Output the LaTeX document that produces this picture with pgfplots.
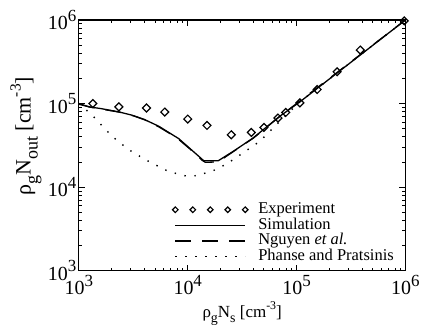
\documentclass[border=0pt]{standalone}
\usepackage{pgfplots}
\pgfplotsset{compat=1.18}
\usepackage{fontspec}
\setmainfont{Liberation Serif}
% power-of-ten tick label set in the text font
\newcommand\tp[1]{10\raisebox{0.42em}{\fontsize{17}{17}\selectfont #1}}
% large, deep subscripts and superscripts for the axis labels
\newcommand\sub[1]{\raisebox{-0.32em}{\scalebox{0.82}{#1}}}
\newcommand\sps[1]{\raisebox{0.45em}{\scalebox{0.7}{#1}}}

\pgfplotsset{
  diamonds legend/.style={legend image code/.code={%
    \draw[##1, mark size=2pt] plot coordinates {(0pt,0pt) (17.5pt,0pt) (35pt,0pt) (52.5pt,0pt) (70pt,0pt)};
    \path (82pt,0pt);}},
  long legend/.style={legend image code/.code={%
    \draw[##1] (0pt,0pt) -- (70pt,0pt);
    \path (82pt,0pt);}},
}

\begin{document}
\begin{tikzpicture}
\begin{axis}[
  scale only axis,
  width=327pt, height=251pt,
  xmode=log, ymode=log,
  xmin=1e3, xmax=1e6, ymin=1e3, ymax=1e6,
  xtick={1e3,1e4,1e5,1e6},
  xticklabels={\tp{3},\tp{4},\tp{5},\tp{6}},
  ytick={1e3,1e4,1e5,1e6},
  yticklabels={\tp{3},\tp{4},\tp{5},\tp{6}},
  tick align=inside,
  major tick length=6pt, minor tick length=3pt,
  every tick/.style={black, line width=0.8pt},
  axis line style={line width=1.2pt},
  tick label style={font=\fontsize{20}{20}\selectfont},
  xticklabel style={yshift=-1pt},
  yticklabel style={xshift=1pt},
  xlabel={ρ\sub{g}N\sub{s} [cm\sps{-3}]},
  ylabel={ρ\sub{g}N\sub{out} [cm\sps{-3}]},
  xlabel style={font=\fontsize{17}{17}\selectfont,
    at={(axis description cs:0.5,-0.186)}, anchor=base},
  ylabel style={font=\fontsize{22}{22}\selectfont,
    at={(axis description cs:-0.162,0.536)}, anchor=center},
  clip mode=individual,
  legend cell align=left,
  legend style={draw=none, fill=none, inner sep=0pt, row sep=0pt,
    at={(rel axis cs:0.286,0.275)}, anchor=north west,
    font=\fontsize{16.5}{16.5}\selectfont,
    nodes={inner sep=0.4pt, text height=11.2pt, text depth=3.7pt}},
]
% experiment: open diamonds (squares turned by 45 degrees)
\addplot[only marks, mark=square, mark size=2.8pt,
  mark options={line width=1.2pt, fill=white, solid, rotate=45}, diamonds legend]
coordinates {
  (1343,100000) (2328,91200) (4178,88310) (6152,79070) (10000,65160)
  (15030,54700) (25120,42270) (38370,45080) (50120,51760) (67450,66990)
  (79430,78160) (107200,101900) (154500,147200) (235500,239900)
  (384600,436500) (975000,975000)
};
\addlegendentry{Experiment}
% simulation
\addplot[black, line width=1.3pt, no marks, long legend]
coordinates {
  (1000,100000) (1236,91200) (1585,87100) (2328,79430) (3083,72440)
  (3981,64570) (5420,53460) (6761,44670) (8260,38020) (10940,27540)
  (12590,23440) (14030,20650) (19050,20650) (26060,26670)
  (39810,38640) (69820,70150) (107200,104700) (1000000,1000000)
};
\addlegendentry{Simulation}
% Nguyen et al.
\addplot[black, line width=1.3pt, no marks, dash pattern=on 16pt off 11pt, long legend]
coordinates {
  (1000,98000) (1300,90000) (2400,78500) (3200,71000) (4000,64000)
  (5500,52000) (6800,44000) (8000,38500) (10500,28500) (12600,23000)
  (13500,21000) (14500,19800) (19000,20000) (26000,26400)
  (40000,38500) (70000,70000) (1000000,1000000)
};
\addlegendentry{Nguyen \textit{et al.}}
% Phanse and Pratsinis
\addplot[black, line width=1.4pt, no marks, dash pattern=on 1.4pt off 8.6pt, long legend]
coordinates {
  (1000,100000) (1324,72440) (2023,40360) (2877,27990) (4093,21230)
  (6653,15380) (9462,13650) (11670,13650) (16600,15380) (22030,18490)
  (26060,21230) (45710,35160) (65160,55720) (79430,72000)
  (107200,104700) (1000000,1000000)
};
\addlegendentry{Phanse and Pratsinis}
\end{axis}
\useasboundingbox (-79pt,-59pt) rectangle (344pt,271pt);
\end{tikzpicture}
\end{document}
